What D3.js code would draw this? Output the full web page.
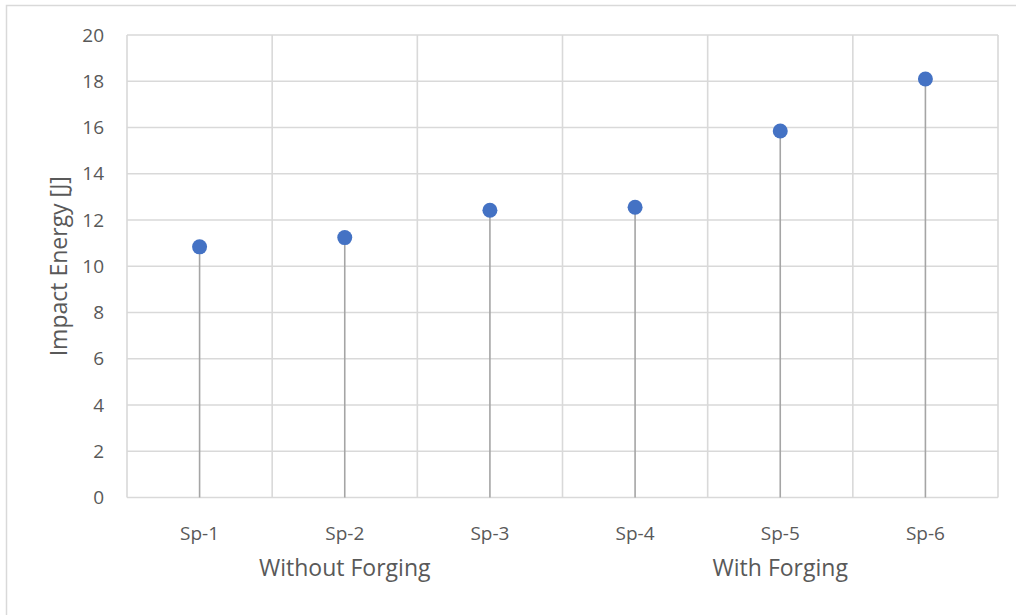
<!DOCTYPE html>
<html>
<head>
<meta charset="utf-8">
<script src="https://cdn.jsdelivr.net/npm/d3@7"></script>
<style>
  body { margin: 0; background: #fff; }
  svg { display: block; font-family: "Open Sans", "Liberation Sans", sans-serif; }
</style>
</head>
<body>
<svg id="chart" width="1016" height="615"></svg>
<script>
// Charpy impact energy per specimen
const specimens = ["Sp-1", "Sp-2", "Sp-3", "Sp-4", "Sp-5", "Sp-6"];
const impactEnergy = [10.84, 11.24, 12.42, 12.55, 15.85, 18.1];
const groups = ["Without Forging", "With Forging"];
const groupOf = [0, 0, 0, 1, 1, 1];
const yTicks = [0, 2, 4, 6, 8, 10, 12, 14, 16, 18, 20];

const svg = d3.select("#chart");
const W = 1016, H = 615;
const m = { left: 127, right: 998, top: 35, bottom: 497.5 };
const textColor = "#595959";

// outer chart frame
svg.append("rect")
  .attr("x", 6.5).attr("y", 5.5)
  .attr("width", W - 5).attr("height", H - 2)
  .attr("fill", "#fff").attr("stroke", "#d9d9d9").attr("stroke-width", 1.5);

const x = d3.scaleBand().domain(specimens).range([m.left, m.right]).padding(0);
const y = d3.scaleLinear().domain([0, 20]).range([m.bottom, m.top]);

// horizontal gridlines
svg.append("g")
  .selectAll("line").data(yTicks).join("line")
  .attr("x1", m.left).attr("x2", m.right)
  .attr("y1", d => y(d)).attr("y2", d => y(d))
  .attr("stroke", "#d9d9d9").attr("stroke-width", 1.6);

// vertical gridlines at category boundaries
const bounds = specimens.map(s => x(s)).concat([m.right]);
svg.append("g")
  .selectAll("line").data(bounds).join("line")
  .attr("x1", d => d).attr("x2", d => d)
  .attr("y1", m.top).attr("y2", m.bottom)
  .attr("stroke", "#d9d9d9").attr("stroke-width", 1.6);

// y axis labels
const yAxis = d3.axisLeft(y).tickValues(yTicks).tickSize(0).tickPadding(23);
const gy = svg.append("g").attr("transform", `translate(${m.left},0)`).call(yAxis);
gy.select(".domain").remove();
gy.attr("font-size", 19).attr("font-family", null);
gy.selectAll("text").attr("fill", textColor);

// x axis specimen labels
const xAxis = d3.axisBottom(x).tickSize(0);
const gx = svg.append("g").attr("transform", `translate(0,${m.bottom})`).call(xAxis);
gx.select(".domain").remove();
gx.attr("font-size", 19).attr("font-family", null);
gx.selectAll("text").attr("fill", textColor).attr("dy", null).attr("y", 42.5);

// group labels centred under their specimens
groups.forEach((g, gi) => {
  const members = specimens.filter((s, i) => groupOf[i] === gi);
  const x0 = x(members[0]);
  const x1 = x(members[members.length - 1]) + x.bandwidth();
  svg.append("text")
    .attr("x", (x0 + x1) / 2).attr("y", 576)
    .attr("text-anchor", "middle")
    .attr("fill", textColor).attr("font-size", 23)
    .text(g);
});

// y axis title
svg.append("text")
  .attr("transform", `translate(67,${(m.top + m.bottom) / 2}) rotate(-90)`)
  .attr("text-anchor", "middle")
  .attr("fill", textColor).attr("font-size", 23)
  .text("Impact Energy [J]");

const cx = d => x(d) + x.bandwidth() / 2;

// drop lines from each point to the baseline
svg.append("g")
  .selectAll("line").data(specimens).join("line")
  .attr("x1", d => cx(d)).attr("x2", d => cx(d))
  .attr("y1", (d, i) => y(impactEnergy[i])).attr("y2", y(0))
  .attr("stroke", "#a5a5a5").attr("stroke-width", 1.6);

// markers
svg.append("g")
  .selectAll("circle").data(specimens).join("circle")
  .attr("cx", d => cx(d))
  .attr("cy", (d, i) => y(impactEnergy[i]))
  .attr("r", 7.5)
  .attr("fill", "#4472c4");
</script>
</body>
</html>
